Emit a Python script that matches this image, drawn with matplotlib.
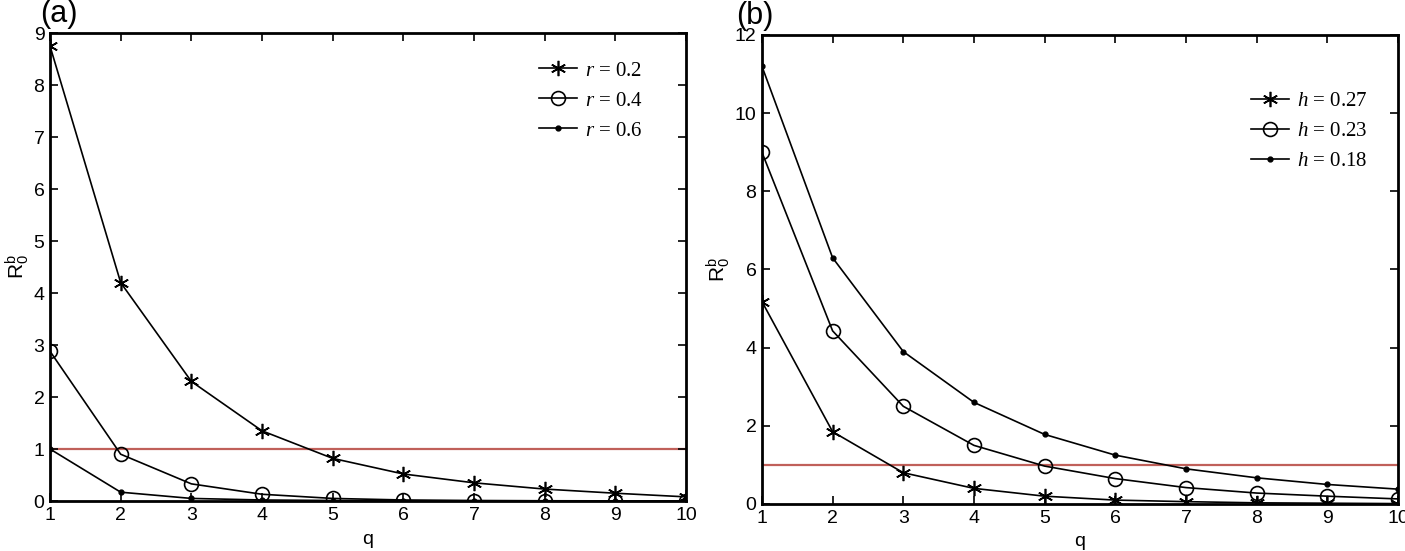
import matplotlib.pyplot as plt
import numpy as np

# data
q = np.arange(1, 11)

# panel (a): different r
ra_02 = [8.75, 4.2, 2.3, 1.35, 0.82, 0.52, 0.35, 0.23, 0.15, 0.08]
ra_04 = [2.88, 0.9, 0.33, 0.13, 0.05, 0.02, 0.01, 0.005, 0.003, 0.002]
ra_06 = [1.0, 0.17, 0.05, 0.02, 0.01, 0.005, 0.003, 0.002, 0.001, 0.001]

# panel (b): different h
hb_027 = [5.18, 1.85, 0.8, 0.4, 0.2, 0.1, 0.06, 0.03, 0.02, 0.01]
hb_023 = [9.0, 4.43, 2.5, 1.5, 0.97, 0.65, 0.42, 0.28, 0.2, 0.13]
hb_018 = [11.2, 6.3, 3.9, 2.6, 1.78, 1.25, 0.9, 0.67, 0.5, 0.38]

plt.rcParams["font.family"] = ["Liberation Sans", "DejaVu Sans"]
plt.rcParams["mathtext.fontset"] = "custom"
plt.rcParams["mathtext.rm"] = "Liberation Sans"
plt.rcParams["mathtext.it"] = "Liberation Serif:italic"

fig = plt.figure(figsize=(14.05, 5.51), dpi=100)
ax1 = fig.add_axes([0.0356, 0.0907, 0.4527, 0.8493])
ax2 = fig.add_axes([0.5423, 0.0853, 0.4527, 0.8512])

star = (6, 2, 0)
red = "#c0605a"
serif = {"family": "Liberation Serif", "size": 15}


def style(ax, ymax, yticks, label, lx):
    ax.set_xlim(1, 10)
    ax.set_ylim(0, ymax)
    ax.set_xticks(q)
    ax.set_yticks(yticks)
    ax.tick_params(direction="in", top=True, right=True, length=6, width=1.2,
                   labelsize=14, pad=4)
    for s in ax.spines.values():
        s.set_linewidth(2)
    ax.axhline(1, color=red, lw=1.6, zorder=1)
    ax.set_xlabel("q", fontsize=14, labelpad=5)
    ax.set_ylabel(r"$\mathrm{R}_\mathrm{0}^\mathrm{b}$", fontsize=15, labelpad=2)
    ax.text(lx, 1.008, label, transform=ax.transAxes, fontsize=22,
            ha="left", va="bottom")


lkw = dict(color="black", lw=1.2)

ax1.plot(q, ra_02, marker=star, ms=11, mew=1.2, label=r"$r$ = 0.2", **lkw)
ax1.plot(q, ra_04, marker="o", ms=10, mfc="none", mew=1.2, label=r"$r$ = 0.4", **lkw)
ax1.plot(q, ra_06, marker="o", ms=3.5, label=r"$r$ = 0.6", **lkw)
style(ax1, 9, range(0, 10), "(a)", -0.015)
ax1.legend(loc="upper left", bbox_to_anchor=(0.74, 0.98), frameon=False,
           prop=serif, handlelength=1.8, handletextpad=0.4, labelspacing=0.5)

ax2.plot(q, hb_027, marker=star, ms=11, mew=1.2, label=r"$h$ = 0.27", **lkw)
ax2.plot(q, hb_023, marker="o", ms=10, mfc="none", mew=1.2, label=r"$h$ = 0.23", **lkw)
ax2.plot(q, hb_018, marker="o", ms=3.5, label=r"$h$ = 0.18", **lkw)
style(ax2, 12, range(0, 13, 2), "(b)", -0.04)
ax2.legend(loc="upper left", bbox_to_anchor=(0.74, 0.92), frameon=False,
           prop=serif, handlelength=1.8, handletextpad=0.4, labelspacing=0.5)

fig.savefig("out.png", dpi=100)
